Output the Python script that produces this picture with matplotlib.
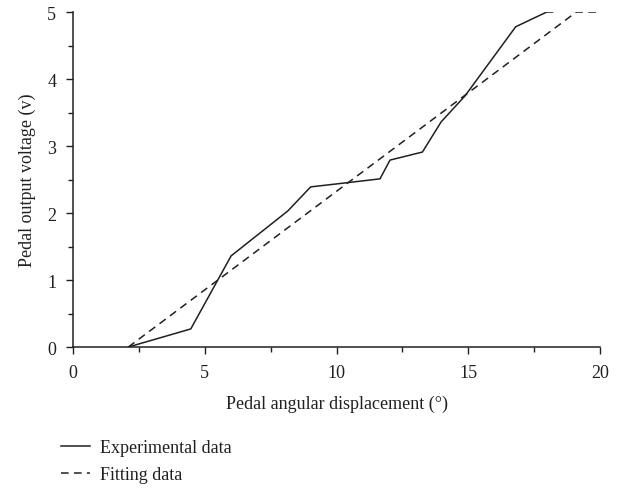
import numpy as np
import matplotlib
matplotlib.use("Agg")
import matplotlib.pyplot as plt
from matplotlib.ticker import MultipleLocator

# experimental curve
exp_x = [2.1, 4.47, 6.0, 8.15, 9.02, 10.13, 11.65, 12.03, 13.26, 13.97, 14.88, 16.8, 17.98, 18.2]
exp_v = [0.0, 0.27, 1.36, 2.03, 2.39, 2.44, 2.51, 2.79, 2.91, 3.36, 3.75, 4.78, 5.0, 5.0]
# fitted line
fit_x = [2.1, 19.1, 20.0]
fit_v = [0.0, 5.0, 5.0]

ink = "#231f20"
plt.rcParams['font.family'] = ['Liberation Serif', 'DejaVu Serif']
plt.rcParams['font.size'] = 13

fig = plt.figure(figsize=(6.27, 4.89), dpi=100)
ax = fig.add_axes([0.1164, 0.2883, 0.957 - 0.1164, 0.9734 - 0.2883])

l1, = ax.plot(exp_x, exp_v, '-', color=ink, lw=1.1, label="Experimental data")
l2, = ax.plot(fit_x, fit_v, '--', color=ink, lw=1.1, dashes=(5, 3.5), label="Fitting data")

ax.set_xlim(0, 20)
ax.set_ylim(0, 5)
ax.xaxis.set_major_locator(MultipleLocator(5))
ax.xaxis.set_minor_locator(MultipleLocator(2.5))
ax.yaxis.set_major_locator(MultipleLocator(1))
ax.yaxis.set_minor_locator(MultipleLocator(0.5))
ax.tick_params(which='major', direction='out', length=5, width=1, pad=7, color=ink, labelcolor=ink)
ax.tick_params(which='minor', direction='out', length=3.6, width=1, color=ink)

for s in ['top', 'right']:
    ax.spines[s].set_visible(False)
for s in ['left', 'bottom']:
    ax.spines[s].set_color(ink)
    ax.spines[s].set_linewidth(1.1)
    ax.spines[s].set_clip_on(False)

ax.set_xlabel("Pedal angular displacement (°)", color=ink, labelpad=10)
ax.set_ylabel("Pedal output voltage (v)", color=ink, labelpad=8)

fig.legend(handles=[l1, l2], loc='upper left', bbox_to_anchor=(0.097, 0.1),
           frameon=False, handlelength=1.6, handletextpad=0.55, labelspacing=0.57,
           borderaxespad=0, borderpad=0, labelcolor=ink)

fig.savefig("out.png", dpi=100)
